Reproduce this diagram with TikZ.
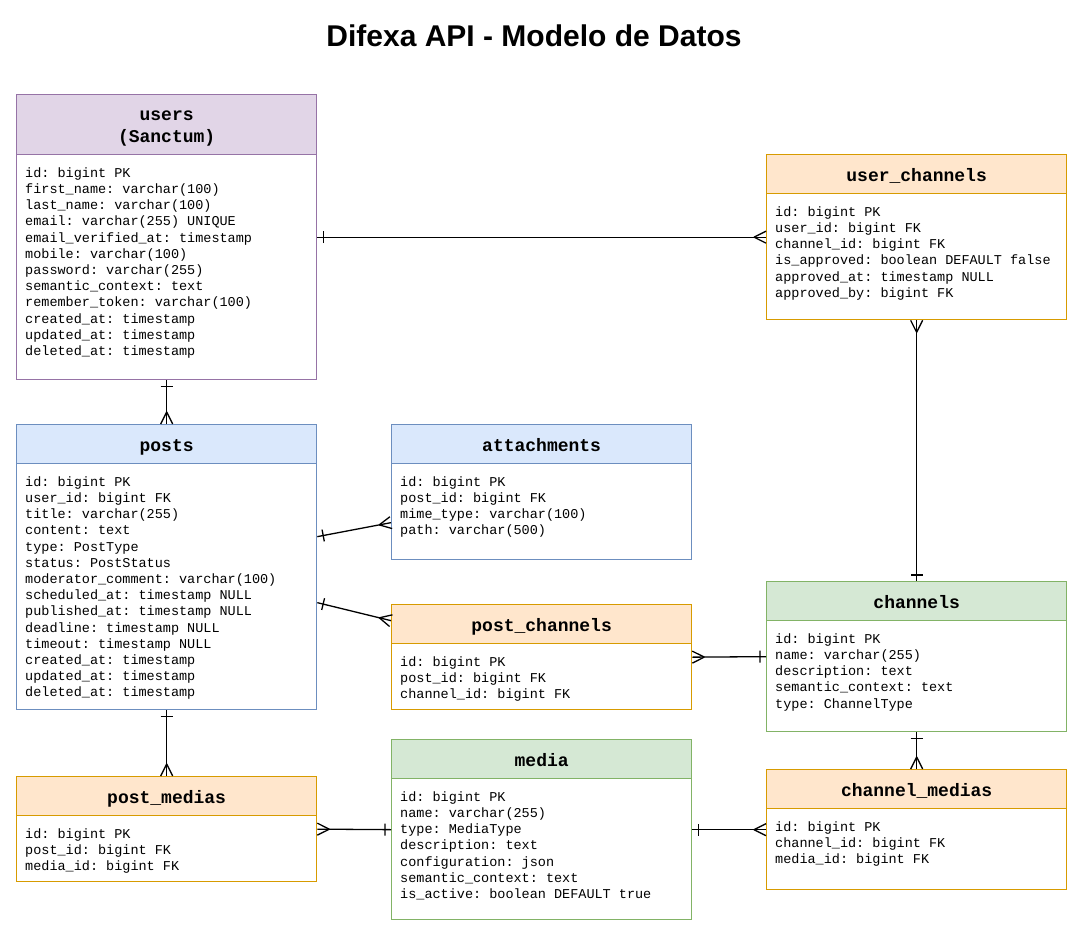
\documentclass[tikz,border=0pt]{standalone}
\usepackage{fontspec}
\setmainfont{Liberation Sans}
\setmonofont{Liberation Mono}
\usetikzlibrary{arrows.meta,calc}
\definecolor{purpleL}{HTML}{E1D5E7}\definecolor{purpleD}{HTML}{9673A6}
\definecolor{blueL}{HTML}{DAE8FC}\definecolor{blueD}{HTML}{6C8EBF}
\definecolor{orangeL}{HTML}{FFE6CC}\definecolor{orangeD}{HTML}{D79B00}
\definecolor{greenL}{HTML}{D5E8D4}\definecolor{greenD}{HTML}{82B366}
\pgfdeclarearrow{
  name = Crow,
  parameters = {\the\pgfarrowlength},
  setup code = {
    \pgfarrowssettipend{0pt}
    \pgfarrowssetlineend{0pt}
    \pgfarrowssetbackend{-\pgfarrowlength}
    \pgfarrowssavethe\pgfarrowlength
  },
  drawing code = {
    \pgfpathmoveto{\pgfpoint{-\pgfarrowlength}{0pt}}
    \pgfpathlineto{\pgfpoint{0pt}{.5\pgfarrowlength}}
    \pgfpathmoveto{\pgfpoint{-\pgfarrowlength}{0pt}}
    \pgfpathlineto{\pgfpoint{0pt}{-.5\pgfarrowlength}}
    \pgfusepathqstroke
  },
  defaults = {length = 12pt}
}
\pgfdeclarearrow{
  name = One,
  parameters = {\the\pgfarrowlength},
  setup code = {
    \pgfarrowssettipend{0pt}
    \pgfarrowssetlineend{0pt}
    \pgfarrowssetbackend{-\pgfarrowlength}
    \pgfarrowssavethe\pgfarrowlength
  },
  drawing code = {
    \pgfpathmoveto{\pgfpoint{-\pgfarrowlength}{\pgfarrowlength}}
    \pgfpathlineto{\pgfpoint{-\pgfarrowlength}{-\pgfarrowlength}}
    \pgfusepathqstroke
  },
  defaults = {length = 6pt}
}
\tikzset{
  tbl/.style={draw=#1D, fill=white, line width=1.3pt, minimum width=300pt, inner sep=0pt, anchor=north west},
  hdr/.style={draw=#1D, fill=#1L, line width=1.3pt, minimum width=300pt, inner sep=0pt, anchor=north,
    align=center, text height=15pt, text depth=0pt, font=\ttfamily\bfseries\fontsize{18}{22}\selectfont},
  flds/.style={inner sep=0pt, anchor=north west, align=left, font=\ttfamily\fontsize{13.5}{16.2}\selectfont},
  rel/.style={line width=1.3pt, draw=black},
  ttl/.style={font=\bfseries\fontsize{30}{34}\selectfont, inner sep=0pt}
}
\newcommand\ertable[8]{%
  \node[tbl=#6, minimum height=#4] (#1) at (#2,#3) {};
  \node[hdr=#6, #5] (#1-h) at (#1.north) {#7};
  \node[flds] (#1-f) at ([xshift=9pt,yshift=-12pt]#1-h.south west) {#8};
}
\begin{document}
\begin{tikzpicture}[x=1pt,y=-1pt]
\useasboundingbox (0,0) rectangle (1082,939);
\node[ttl] (title) at (534,36) {Difexa API - Modelo de Datos};

\ertable{users}{16}{94}{285}{minimum height=60pt, text height=36pt}{purple}{users\\(Sanctum)}{id: bigint PK\\first\_name: varchar(100)\\last\_name: varchar(100)\\email: varchar(255) UNIQUE\\email\_verified\_at: timestamp\\mobile: varchar(100)\\password: varchar(255)\\semantic\_context: text\\remember\_token: varchar(100)\\created\_at: timestamp\\updated\_at: timestamp\\deleted\_at: timestamp}

\ertable{userch}{766}{154}{165}{minimum height=39pt}{orange}{user\_channels}{id: bigint PK\\user\_id: bigint FK\\channel\_id: bigint FK\\is\_approved: boolean DEFAULT false\\approved\_at: timestamp NULL\\approved\_by: bigint FK}

\ertable{posts}{16}{424}{285}{minimum height=39pt}{blue}{posts}{id: bigint PK\\user\_id: bigint FK\\title: varchar(255)\\content: text\\type: PostType\\status: PostStatus\\moderator\_comment: varchar(100)\\scheduled\_at: timestamp NULL\\published\_at: timestamp NULL\\deadline: timestamp NULL\\timeout: timestamp NULL\\created\_at: timestamp\\updated\_at: timestamp\\deleted\_at: timestamp}

\ertable{attach}{391}{424}{135}{minimum height=39pt}{blue}{attachments}{id: bigint PK\\post\_id: bigint FK\\mime\_type: varchar(100)\\path: varchar(500)}

\ertable{postch}{391}{604}{105}{minimum height=39pt}{orange}{post\_channels}{id: bigint PK\\post\_id: bigint FK\\channel\_id: bigint FK}

\ertable{channels}{766}{581}{150}{minimum height=39pt}{green}{channels}{id: bigint PK\\name: varchar(255)\\description: text\\semantic\_context: text\\type: ChannelType}

\ertable{postmed}{16}{776}{105}{minimum height=39pt}{orange}{post\_medias}{id: bigint PK\\post\_id: bigint FK\\media\_id: bigint FK}

\ertable{media}{391}{739}{180}{minimum height=39pt}{green}{media}{id: bigint PK\\name: varchar(255)\\type: MediaType\\description: text\\configuration: json\\semantic\_context: text\\is\_active: boolean DEFAULT true}

\ertable{chmed}{766}{769}{120}{minimum height=39pt}{orange}{channel\_medias}{id: bigint PK\\channel\_id: bigint FK\\media\_id: bigint FK}

\draw[rel, arrows={One-Crow}] (users.east) -- (userch.west);
\draw[rel, arrows={One-Crow}] (users.south) -- (posts-h.north);
\draw[rel, arrows={Crow-One}] (userch.south) -- (channels-h.north);
\draw[rel, arrows={One-Crow}] ([yshift=30.5pt]posts.east) -- ([yshift=-30.5pt]attach.west);
\draw[rel, arrows={One-Crow}] ([yshift=-35.5pt]posts.east) -- ([yshift=36.5pt]postch.west);
\draw[rel, arrows={Crow-One}] (postch.east) -- (channels.west);
\draw[rel, arrows={One-Crow}] (posts.south) -- (postmed-h.north);
\draw[rel, arrows={Crow-One}] (postmed.east) -- (media.west);
\draw[rel, arrows={One-Crow}] (media.east) -- (chmed.west);
\draw[rel, arrows={One-Crow}] (channels.south) -- (chmed-h.north);
\end{tikzpicture}
\end{document}
